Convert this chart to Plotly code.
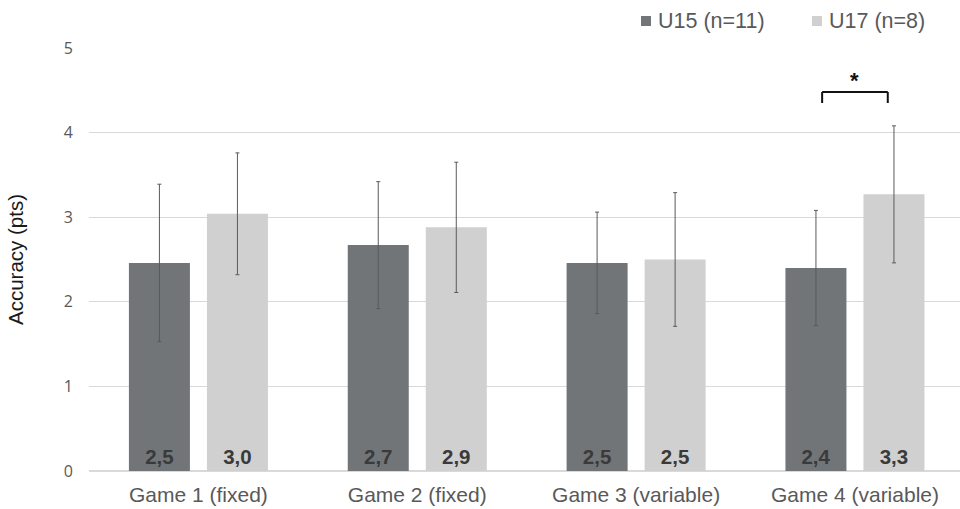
import plotly.graph_objects as go

# Mean accuracy per game and age group, with standard deviations
games = ["Game 1 (fixed)", "Game 2 (fixed)", "Game 3 (variable)", "Game 4 (variable)"]
u15_mean = [2.46, 2.67, 2.46, 2.40]
u15_sd = [0.93, 0.75, 0.60, 0.68]
u17_mean = [3.04, 2.88, 2.50, 3.27]
u17_sd = [0.72, 0.77, 0.79, 0.81]
series_names = ["U15 (n=11)", "U17 (n=8)"]
significant_game = 3  # index of the game with a significant group difference

y_ticks = [0, 1, 2, 3, 4, 5]

dark = "#727578"
light = "#d0d0d0"
err_color = "#5a5a5a"
sans = "Liberation Sans, Arial, sans-serif"
label_font = dict(family=sans, size=20.5, color="#3a3a3a")

W, H = 960, 509
M = dict(l=89, r=0, t=48, b=38)
plot_w = W - M["l"] - M["r"]
plot_h = H - M["t"] - M["b"]


def px_to_paper(px, py):
    return (px - M["l"]) / plot_w, (H - M["b"] - py) / plot_h


fig = go.Figure()
colors = [dark, light]
for name, means, sds, color in [
    (series_names[0], u15_mean, u15_sd, colors[0]),
    (series_names[1], u17_mean, u17_sd, colors[1]),
]:
    fig.add_trace(go.Bar(
        name=name,
        x=list(range(len(games))),
        y=means,
        marker=dict(color=color, line=dict(width=0)),
        error_y=dict(type="data", array=sds, visible=True,
                     color=err_color, thickness=1, width=2),
        texttemplate="<b>%{y:.1f}</b>",
        textposition="inside",
        insidetextanchor="start",
        insidetextfont=label_font,
        textangle=0,
        cliponaxis=False,
        showlegend=False,
    ))

# Legend row across the top: colour square followed by the group name
for (sq_left, name), color in zip([(641, series_names[0]), (812, series_names[1])], colors):
    x0, y0 = px_to_paper(sq_left, 26)
    x1, y1 = px_to_paper(sq_left + 10, 16)
    fig.add_shape(type="rect", xref="paper", yref="paper", x0=x0, y0=y0, x1=x1, y1=y1,
                  fillcolor=color, line=dict(width=0))
    tx, ty = px_to_paper(sq_left + 15, 21)
    fig.add_annotation(xref="paper", yref="paper", x=tx, y=ty, text=name,
                       showarrow=False, xanchor="left", yanchor="middle",
                       font=dict(family=sans, size=21.5, color="#595959"))

# Significance bracket over the flagged game
half = 0.15
top = max(m + s for m, s in zip(u15_mean + u17_mean, u15_sd + u17_sd)) + 0.40
leg = 0.13
line_style = dict(color="#111111", width=2)
for x0, y0, x1, y1 in [
    (significant_game - half, top - leg, significant_game - half, top),
    (significant_game - half, top, significant_game + half, top),
    (significant_game + half, top, significant_game + half, top - leg),
]:
    fig.add_shape(type="line", xref="x", yref="y", x0=x0, y0=y0, x1=x1, y1=y1,
                  line=line_style, layer="above")
fig.add_annotation(x=significant_game, y=top, yref="y", xref="x", text="<b>*</b>",
                   showarrow=False, yanchor="bottom", yshift=-3,
                   font=dict(family=sans, size=22, color="#111111"))

fig.update_layout(
    width=W, height=H,
    margin=M,
    paper_bgcolor="white", plot_bgcolor="white",
    barmode="group", bargap=0.287, bargroupgap=0.218,
    separators=",.",
    showlegend=False,
    xaxis=dict(
        tickmode="array", tickvals=list(range(len(games))), ticktext=games,
        range=[-0.5, 3.48], showgrid=False, zeroline=False, showline=False,
        tickfont=dict(family=sans, size=21, color="#595959"),
        ticks="", ticklabelstandoff=9, automargin=False,
    ),
    yaxis=dict(
        range=[0, 5], tickvals=y_ticks, showgrid=True, gridcolor="#d9d9d9", gridwidth=1,
        zeroline=True, zerolinecolor="#d9d9d9", zerolinewidth=1.5, showline=False,
        tickfont=dict(family="Open Sans, sans-serif", size=16, color="#595959"),
        ticks="", ticklabelstandoff=15, automargin=False,
        title=dict(text="Accuracy (pts)", standoff=34,
                   font=dict(family=sans, size=20.5, color="#1a1a1a")),
    ),
)

fig.write_html("out.html")
